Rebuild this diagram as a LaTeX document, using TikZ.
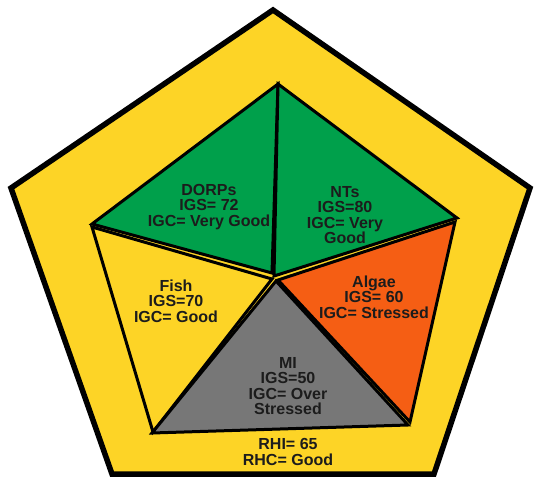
\documentclass[tikz,border=0pt]{standalone}
\usepackage{fontspec}
\setmainfont{Liberation Sans}
\definecolor{rhiyellow}{HTML}{FDD426}
\definecolor{igcgreen}{HTML}{00A04B}
\definecolor{igcorange}{HTML}{F55E14}
\definecolor{igcgrey}{HTML}{777777}
\definecolor{scoretext}{HTML}{1C1C1C}
\tikzset{
  sector/.style={draw=black, line width=3pt, line join=miter},
  score/.style={align=center, inner sep=0pt, text=scoretext,
    font=\fontsize{16}{15.5}\selectfont\bfseries}
}
\begin{document}
\begin{tikzpicture}[x=1pt,y=-1pt]
\useasboundingbox (0,0) rectangle (536,479);
% river health frame
\filldraw[fill=rhiyellow, line width=5.5pt, line join=miter]
  (273,10) -- (530,188) -- (434,474) -- (112,474) -- (11,188) -- cycle;
% indicator groups
\filldraw[sector, fill=igcgreen] (278,84) -- (92,224) -- (272,273) -- cycle;
\filldraw[sector, fill=igcgreen] (278,84) -- (457,218) -- (274,276) -- cycle;
\filldraw[sector, fill=rhiyellow] (92,227) -- (272,279) -- (153,432) -- cycle;
\filldraw[sector, fill=igcorange] (455,222) -- (410,422) -- (278,280) -- cycle;
\filldraw[sector, fill=igcgrey] (276,281) -- (408,425) -- (152,433) -- cycle;
% scores
\node[score] (dorps) at (209,207) {DORPs\\IGS= 72\\IGC= Very Good};
\node[score] (nts) at (345,215) {NTs\\IGS=80\\IGC= Very\\Good};
\node[score] (fish) at (176,301) {Fish\\IGS=70\\IGC= Good};
\node[score] (algae) at (374,297) {Algae\\IGS= 60\\IGC= Stressed};
\node[score] (mi) at (288,386) {MI\\IGS=50\\IGC= Over\\Stressed};
\node[score] (rhi) at (288,452) {RHI= 65\\RHC= Good};
\end{tikzpicture}
\end{document}
